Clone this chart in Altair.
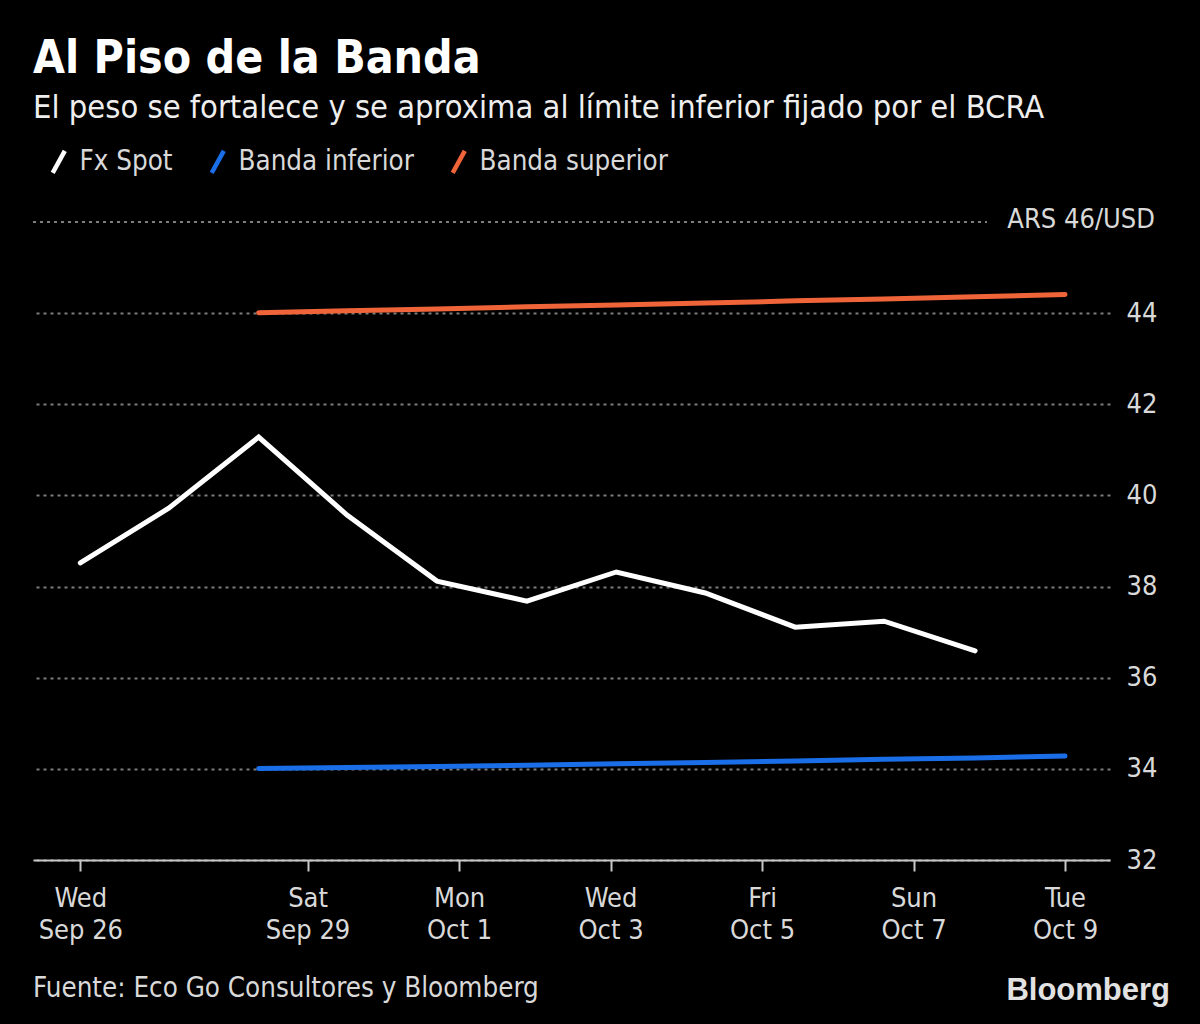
import altair as alt
import pandas as pd

# ---- data ----
fx_dates = ["2018-09-26T00:00", "2018-09-27T04:00", "2018-09-28T08:30", "2018-09-29T12:30",
            "2018-09-30T17:00", "2018-10-01T21:30", "2018-10-03T01:50", "2018-10-04T06:00",
            "2018-10-05T10:30", "2018-10-06T14:40", "2018-10-07T19:30"]
fx_values = [38.52, 39.72, 41.28, 39.57, 38.12, 37.68, 38.32, 37.86, 37.11, 37.24, 36.59]

band_dates = ["2018-09-28T08:30", "2018-09-29T12:30", "2018-09-30T17:00", "2018-10-01T21:30",
              "2018-10-03T01:50", "2018-10-04T06:00", "2018-10-05T10:30", "2018-10-06T14:40",
              "2018-10-07T19:30", "2018-10-09T00:00"]
lower_values = [34.01, 34.03, 34.05, 34.08, 34.11, 34.14, 34.17, 34.21, 34.24, 34.28]
upper_values = [44.01, 44.05, 44.09, 44.14, 44.18, 44.22, 44.27, 44.31, 44.36, 44.41]

series_names = ["Fx Spot", "Banda inferior", "Banda superior"]
series_colors = ["#ffffff", "#1a6ee8", "#f0643a"]

y_ticks = [32, 34, 36, 38, 40, 42, 44]
top_value = 46
top_label = "ARS 46/USD"

title_text = "Al Piso de la Banda"
subtitle_text = "El peso se fortalece y se aproxima al límite inferior fijado por el BCRA"
source_text = "Fuente: Eco Go Consultores y Bloomberg"
brand_text = "Bloomberg"

# ---- tables ----
rows = []
for d, v in zip(fx_dates, fx_values):
    rows.append({"date": d, "value": v, "series": series_names[0]})
for d, v in zip(band_dates, lower_values):
    rows.append({"date": d, "value": v, "series": series_names[1]})
for d, v in zip(band_dates, upper_values):
    rows.append({"date": d, "value": v, "series": series_names[2]})
df = pd.DataFrame(rows)

FONT = "DejaVu Sans Condensed, Liberation Sans Narrow, DejaVu Sans, sans-serif"
LABEL = "#d9d9d9"
GRID = "#7d7d7d"

tick_dates = [alt.DateTime(year=2018, month=m, date=d) for m, d in
              [(9, 26), (9, 29), (10, 1), (10, 3), (10, 5), (10, 7), (10, 9)]]

x_enc = alt.X(
    "date:T",
    scale=alt.Scale(domain=[alt.DateTime(year=2018, month=9, date=25, hours=9),
                            alt.DateTime(year=2018, month=10, date=9, hours=14, minutes=15)]),
    axis=alt.Axis(
        values=tick_dates,
        labelExpr="[timeFormat(datum.value, '%a'), timeFormat(datum.value, '%b %-d')]",
        title=None, grid=False,
        domainColor="#c8c8c8", domainWidth=2,
        tickColor="#c8c8c8", tickWidth=2, tickSize=11,
        labelFontSize=27, labelColor=LABEL, labelFont=FONT,
        labelPadding=14, labelLineHeight=32, labelFlush=False, labelOverlap=False,
    ),
)
y_enc = alt.Y(
    "value:Q",
    scale=alt.Scale(domain=[32, 46], nice=False, zero=False),
    axis=alt.Axis(
        orient="right", values=y_ticks, title=None,
        grid=True, gridColor=GRID, gridDash=[3, 4], gridWidth=2,
        domain=False, ticks=False,
        labelFontSize=27, labelColor=LABEL, labelFont=FONT, labelPadding=16,
    ),
)

lines = alt.Chart(df).mark_line(strokeWidth=5, strokeCap="round").encode(
    x=x_enc,
    y=y_enc,
    color=alt.Color(
        "series:N",
        scale=alt.Scale(domain=series_names, range=series_colors),
        legend=alt.Legend(
            title=None, orient="none", legendX=12, legendY=-74, direction="horizontal",
            symbolType="M -0.55 1 L 0.55 -1", symbolSize=484, symbolStrokeWidth=4.5,
            labelFontSize=27.5, labelColor=LABEL, labelFont=FONT, labelOffset=7,
            labelLimit=400, columnPadding=29,
        ),
    ),
    detail="series:N",
)

top_rule = alt.Chart(pd.DataFrame({"v": [top_value]})).mark_rule(
    color=GRID, strokeDash=[3, 4], strokeWidth=2
).encode(y=alt.datum(top_value), x=alt.value(0), x2=alt.value(954))

top_text = alt.Chart(pd.DataFrame({"t": [top_label]})).mark_text(
    align="right", baseline="middle", fontSize=27, font=FONT, color=LABEL, dy=-2
).encode(text="t:N", y=alt.datum(top_value), x=alt.value(1122))

title = alt.Chart(pd.DataFrame({"t": [title_text]})).mark_text(
    align="left", baseline="alphabetic", fontSize=46, fontWeight="bold", font=FONT, color="#ffffff"
).encode(text="t:N", x=alt.value(0), y=alt.value(-149))

subtitle = alt.Chart(pd.DataFrame({"t": [subtitle_text]})).mark_text(
    align="left", baseline="alphabetic", fontSize=32.4, font=FONT, color="#eeeeee"
).encode(text="t:N", x=alt.value(0), y=alt.value(-104))

source = alt.Chart(pd.DataFrame({"t": [source_text]})).mark_text(
    align="left", baseline="alphabetic", fontSize=27.5, font=FONT, color=LABEL
).encode(text="t:N", x=alt.value(0), y=alt.value(775))

brand = alt.Chart(pd.DataFrame({"t": [brand_text]})).mark_text(
    align="right", baseline="alphabetic", fontSize=31, fontWeight="bold",
    font="Liberation Sans, Arial, sans-serif", color="#e2e2e2"
).encode(text="t:N", x=alt.value(1137), y=alt.value(778))

chart = alt.layer(top_rule, lines, top_text, title, subtitle, source, brand).properties(
    width=1077, height=638,
    autosize=alt.AutoSizeParams(type="none"),
    padding={"left": 33, "top": 222, "right": 90, "bottom": 164},
).configure(
    background="#000000", font=FONT
).configure_view(stroke=None)

chart.save("out.html", embed_options={"renderer": "svg", "actions": False})
